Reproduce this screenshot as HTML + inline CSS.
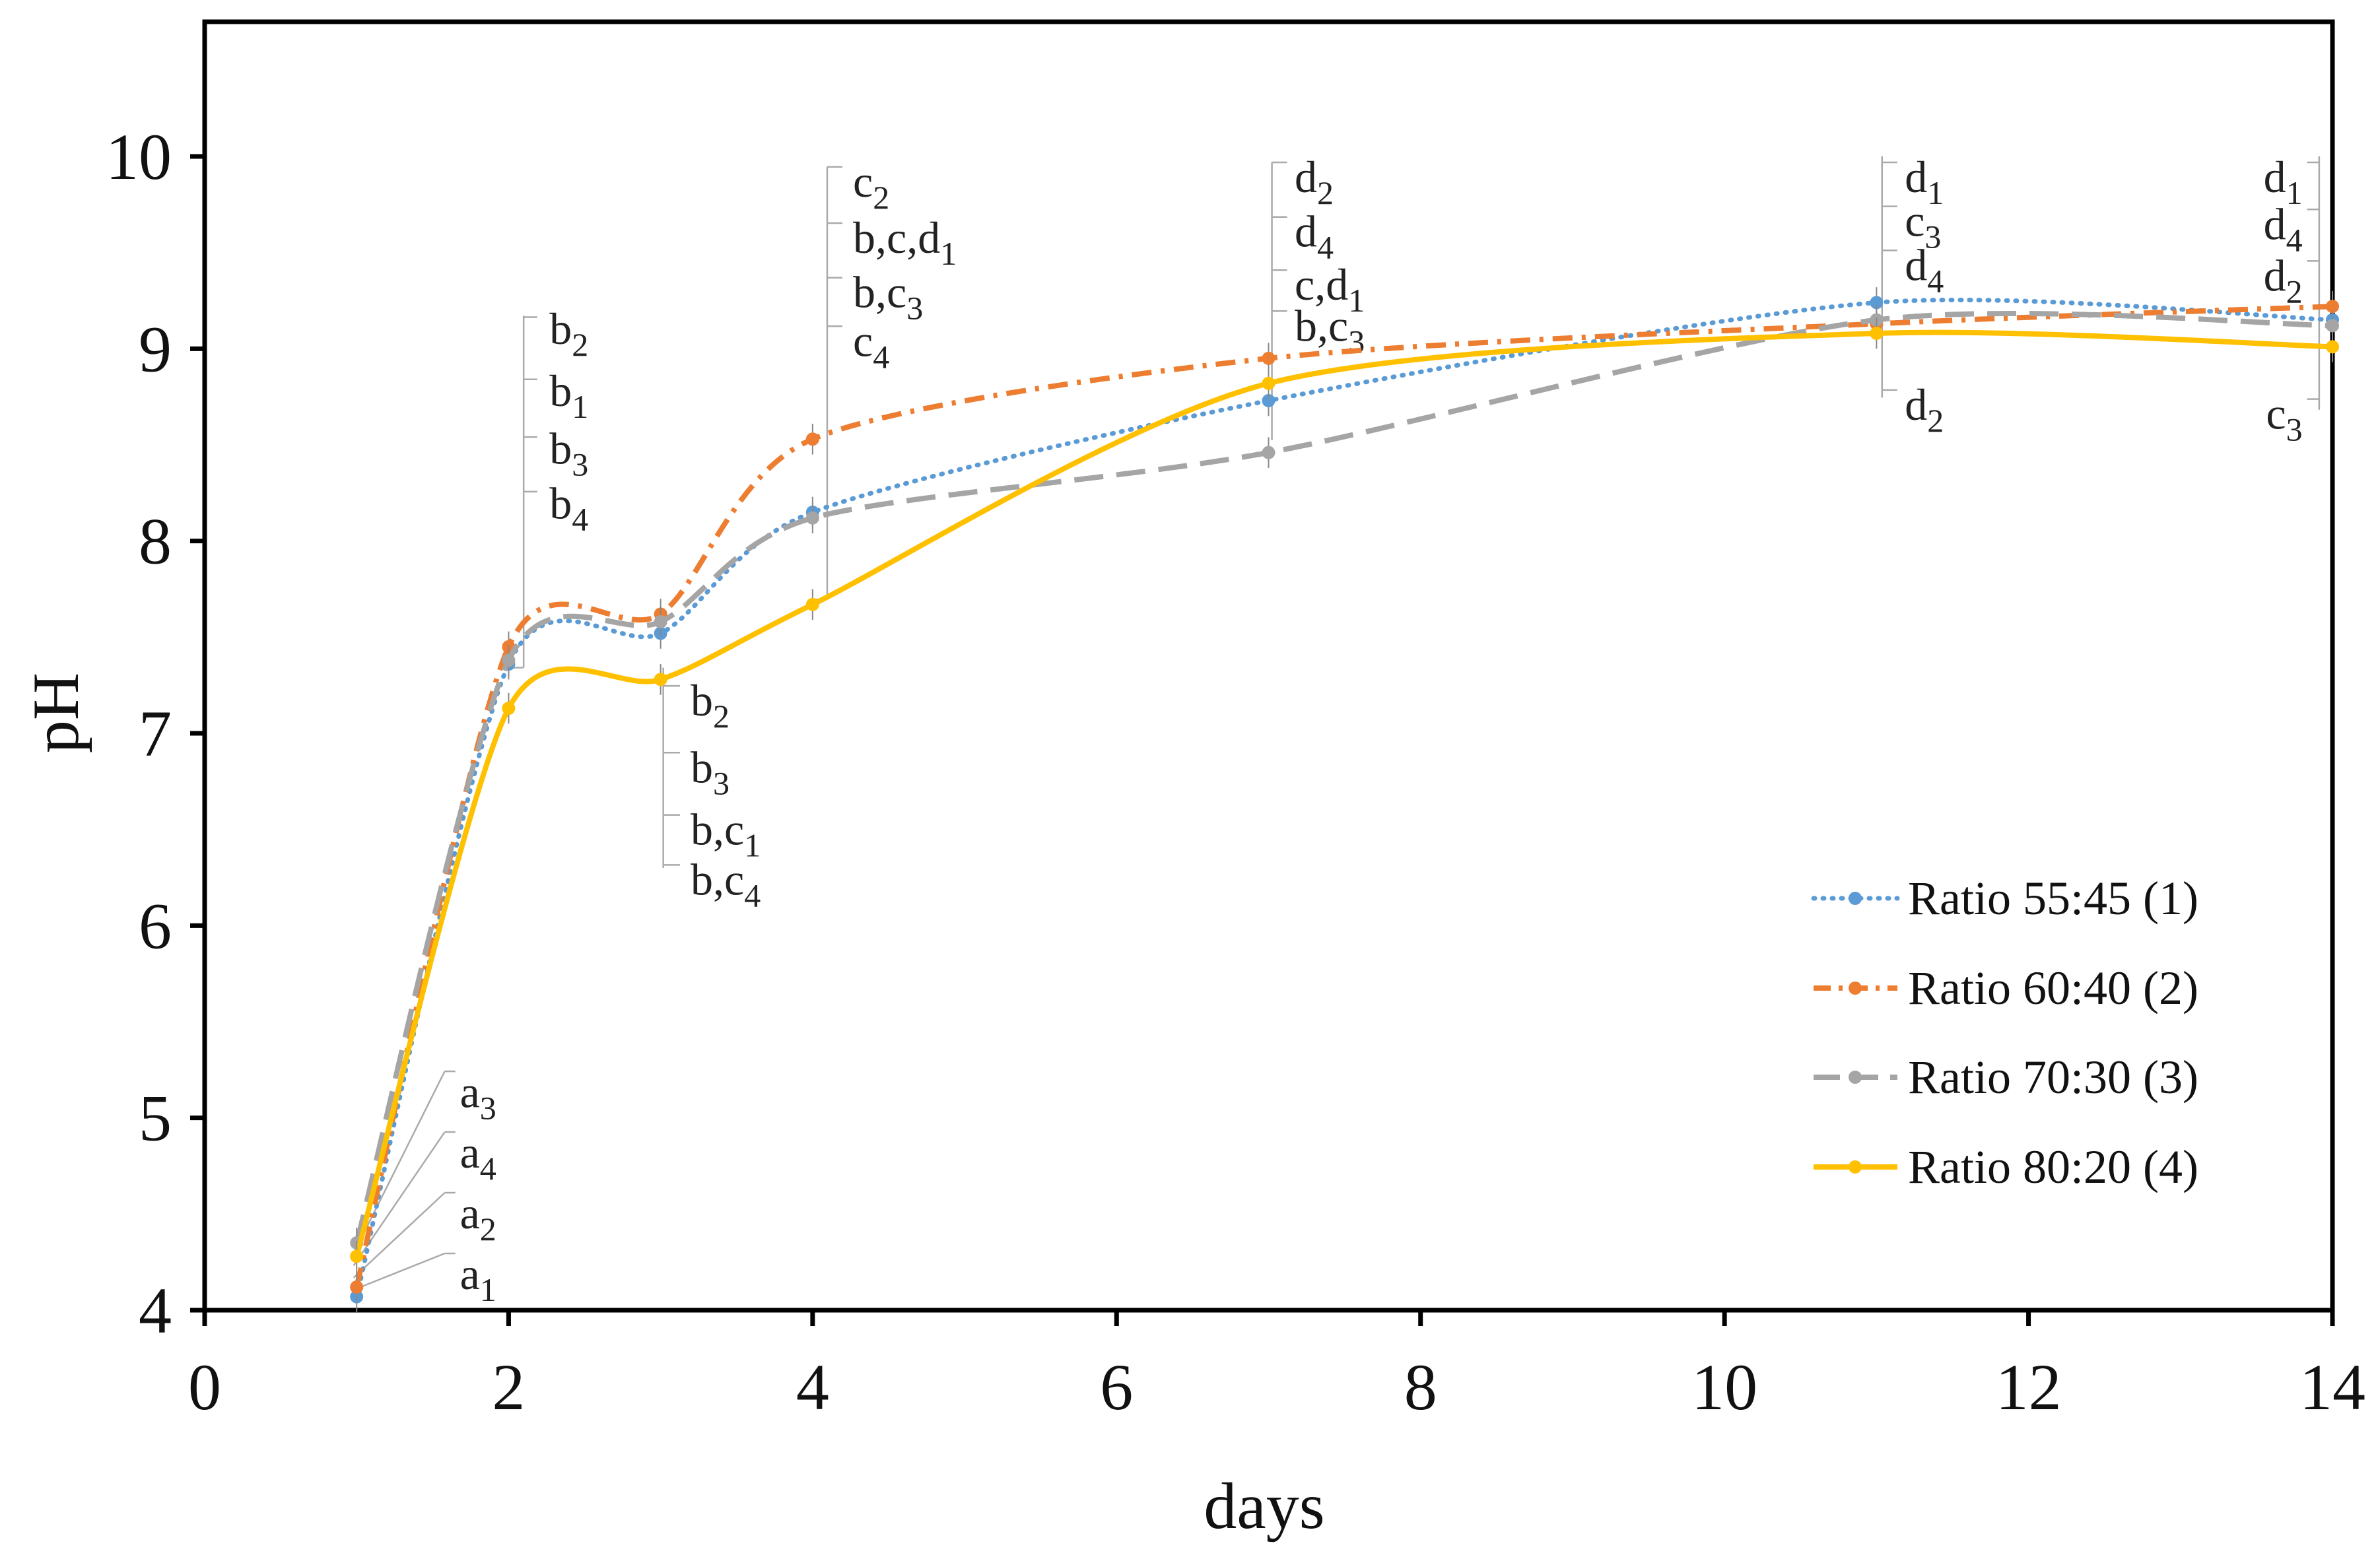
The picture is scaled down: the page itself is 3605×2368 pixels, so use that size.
<!DOCTYPE html>
<html><head><meta charset="utf-8"><style>
html,body{margin:0;padding:0;background:#fff;}
svg{display:block;font-family:"Liberation Serif","Times New Roman",serif;}
</style></head><body>
<svg id="chart" width="3605" height="2368" viewBox="0 0 3605 2368" xmlns="http://www.w3.org/2000/svg"></svg>
<script>
const days = [1, 2, 3, 4, 7, 11, 14];
const seriesNames = ["Ratio 55:45 (1)", "Ratio 60:40 (2)", "Ratio 70:30 (3)", "Ratio 80:20 (4)"];
const s1 = [4.07, 7.36, 7.52, 8.15, 8.73, 9.24, 9.15];
const s2 = [4.12, 7.45, 7.62, 8.53, 8.95, 9.13, 9.22];
const s3 = [4.35, 7.38, 7.58, 8.12, 8.46, 9.15, 9.12];
const s4 = [4.28, 7.13, 7.28, 7.67, 8.82, 9.08, 9.01];
const xTicks = [0, 2, 4, 6, 8, 10, 12, 14];
const yTicks = [4, 5, 6, 7, 8, 9, 10];

const svg = document.getElementById('chart');
const NS = "http://www.w3.org/2000/svg";
const L = 310, R = 3533, T = 33, B = 1985;
const X = d => L + d / 14 * (R - L);
const Y = v => B - (v - 4) / 6 * (B - 237);
const S = 2.299;
function el(tag, attrs, parent) {
  const e = document.createElementNS(NS, tag);
  for (const k in attrs) e.setAttribute(k, attrs[k]);
  (parent || svg).appendChild(e);
  return e;
}

const frame = el('rect', {x: L, y: T, width: R - L, height: B - T, fill: 'none', stroke: '#000', 'stroke-width': 7});



yTicks.forEach(v => {
  const t = el('line', {x1: L - 22, x2: L, y1: Y(v), y2: Y(v), stroke: '#000', 'stroke-width': 7});
  
  
  const tx = el('text', {x: L - 50, y: Y(v) + 34, 'font-size': 100, 'text-anchor': 'end', fill: '#111'});
  tx.textContent = v;
  
  
});
xTicks.forEach(v => {
  const t = el('line', {x1: X(v), x2: X(v), y1: B, y2: B + 24, stroke: '#000', 'stroke-width': 7});
  
  
  const tx = el('text', {x: X(v), y: B + 150, 'font-size': 100, 'text-anchor': 'middle', fill: '#111'});
  tx.textContent = v;
  
  
});
const xt = el('text', {x: 1915, y: 2315, 'font-size': 100, 'text-anchor': 'middle', fill: '#111'});
xt.textContent = 'days';


const yt = el('text', {x: 0, y: 0, 'font-size': 100, 'text-anchor': 'middle', fill: '#111', transform: 'translate(118,1080) rotate(-90)'});
yt.textContent = 'pH';



function smoothPath(vals) {
  const p = days.map((d, i) => [X(d), Y(vals[i])]);
  let d = `M${p[0][0]},${p[0][1]}`;
  const k = 7.5;
  for (let i = 0; i < p.length - 1; i++) {
    const p0 = p[i - 1] || p[i], p1 = p[i], p2 = p[i + 1], p3 = p[i + 2] || p2;
    const c1 = [p1[0] + (p2[0] - p0[0]) / k, p1[1] + (p2[1] - p0[1]) / k];
    const c2 = [p2[0] - (p3[0] - p1[0]) / k, p2[1] - (p3[1] - p1[1]) / k];
    d += ` C${c1[0]},${c1[1]} ${c2[0]},${c2[1]} ${p2[0]},${p2[1]}`;
  }
  return d;
}

const ann = el('g', {fill: '#222', 'font-size': 68});


function lab(x, y, base, sub, anchor) {
  const t = el('text', {x: x * S, y: y * S + 22, 'text-anchor': anchor || 'start'}, ann);
  
  
  const a = el('tspan', {}, t); a.textContent = base;
  const b = el('tspan', {dy: 18, 'font-size': 50}, t); b.textContent = sub;
}
function ln(x1, y1, x2, y2) {
  el('line', {x1: x1 * S, y1: y1 * S, x2: x2 * S, y2: y2 * S, stroke: '#aaa', 'stroke-width': 2.5}, ann);
}
[[720,'a','3'],[760,'a','4'],[800,'a','2'],[840,'a','1']].forEach(([y,b,s]) => {
  lab(303, y, b, s); ln(233, 850 - (840 - y) * 0.2, 293, y - 14); ln(293, y - 14, 300, y - 14);
});
ln(345, 208, 345, 440); ln(335, 440, 345, 440);
[[217,'b','2'],[258,'b','1'],[296,'b','3'],[332,'b','4']].forEach(([y,b,s]) => { lab(362, y, b, s); ln(345, y - 8, 354, y - 8); });
ln(437, 440, 437, 572);
[[462,'b','2'],[506,'b','3'],[547,'b,c','1'],[580,'b,c','4']].forEach(([y,b,s]) => { lab(455, y, b, s); ln(437, y - 10, 448, y - 10); });
ln(545, 110, 545, 395); ln(537, 395, 545, 395);
[[120,'c','2'],[157,'b,c,d','1'],[193,'b,c','3'],[225,'c','4']].forEach(([y,b,s]) => { lab(562, y, b, s); ln(545, y - 10, 555, y - 10); });
ln(838, 107, 838, 290);
[[117,'d','2'],[153,'d','4'],[188,'c,d','1'],[215,'b,c','3']].forEach(([y,b,s]) => { lab(853, y, b, s); ln(838, y - 10, 848, y - 10); });
ln(1240, 103, 1240, 262);
[[117,'d','1'],[146,'c','3'],[175,'d','4'],[267,'d','2']].forEach(([y,b,s]) => { lab(1255, y, b, s); ln(1240, y - 10, 1250, y - 10); });
ln(1528, 103, 1528, 270);
[[117,'d','1'],[148,'d','4'],[182,'d','2'],[273,'c','3']].forEach(([y,b,s]) => { lab(1517, y, b, s, 'end'); ln(1520, y - 10, 1528, y - 10); });

const styles = [
  {c: '#5b9bd5', w: 7, dash: '2 12', cap: 'round', name: 'series-55-45'},
  {c: '#ed7d31', w: 8, dash: '30 14 6 14', cap: 'butt', name: 'series-60-40'},
  {c: '#a5a5a5', w: 8, dash: '44 20', cap: 'butt', name: 'series-70-30'},
  {c: '#ffc000', w: 8, dash: 'none', cap: 'butt', name: 'series-80-20'}
];
[s1, s2, s3, s4].forEach((vals, i) => {
  const st = styles[i];
  const g = el('g', {});
  
  
  el('path', {d: smoothPath(vals), fill: 'none', stroke: st.c, 'stroke-width': st.w, 'stroke-dasharray': st.dash, 'stroke-linecap': st.cap}, g);
  days.forEach((d, j) => {
    const eb = el('line', {x1: X(d), x2: X(d), y1: Y(vals[j] + 0.08), y2: Y(vals[j] - 0.08), stroke: '#888', 'stroke-width': 2}, g);
    
    
    const m = el('circle', {cx: X(d), cy: Y(vals[j]), r: 10, fill: st.c}, g);
    
    
  });
});

const leg = el('g', {});


const legY = [1361, 1497, 1632, 1768];
seriesNames.forEach((n, i) => {
  const st = styles[i];
  const g = el('g', {}, leg);
  
  
  el('line', {x1: 2747, x2: 2874, y1: legY[i], y2: legY[i], stroke: st.c, 'stroke-width': st.w, 'stroke-dasharray': st.dash === 'none' ? 'none' : (i === 0 ? '2 12' : i === 1 ? '26 12 6 12' : '40 18'), 'stroke-linecap': st.cap}, g);
  el('circle', {cx: 2810, cy: legY[i], r: 10, fill: st.c}, g);
  const t = el('text', {x: 2890, y: legY[i] + 24, 'font-size': 72, fill: '#111'}, g);
  t.textContent = n;
});
</script>
</body></html>
